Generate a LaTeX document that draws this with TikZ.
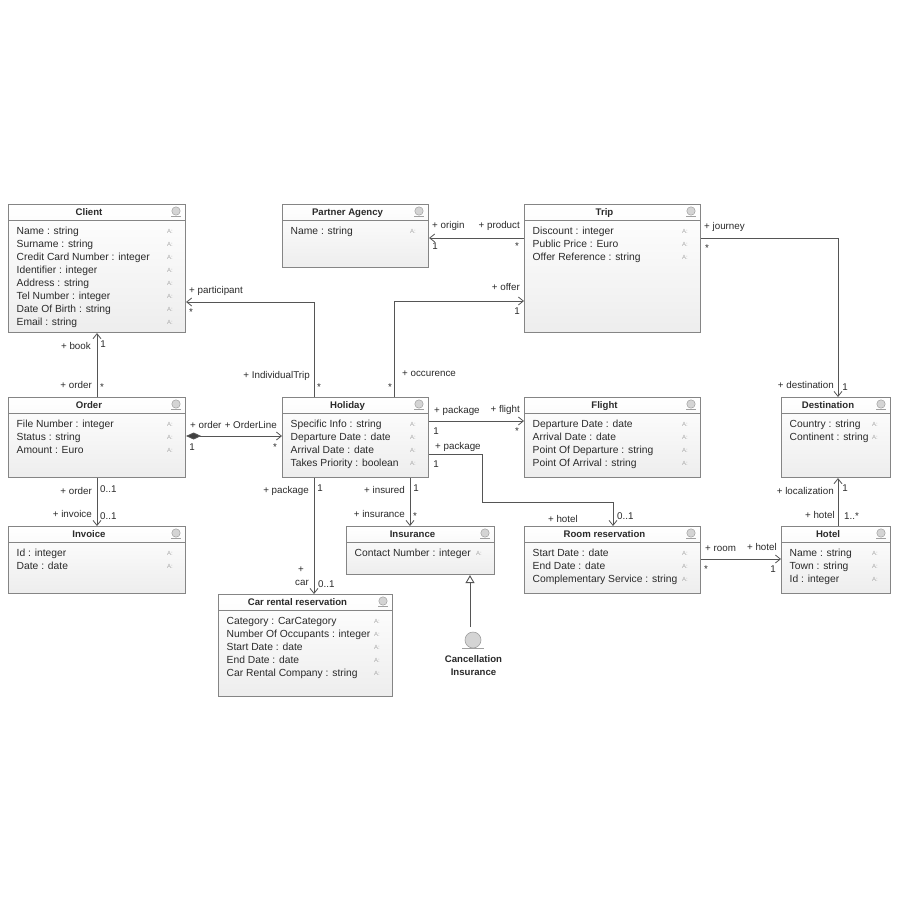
\documentclass[tikz,border=0pt]{standalone}
\usepackage{fontspec}
\setmainfont{Liberation Sans}
\usetikzlibrary{arrows.meta,calc}
\definecolor{boxline}{HTML}{858585}
\definecolor{inktext}{HTML}{2A2A2A}
\definecolor{connline}{HTML}{555555}
\definecolor{iconfill}{HTML}{D4D4D4}
\definecolor{iconline}{HTML}{A0A0A0}
\definecolor{amark}{HTML}{A8A8A8}
\tikzset{
  classbox/.style={draw=boxline,line width=1.1pt,anchor=north west,inner sep=0pt,top color=white,bottom color=black!7,shading angle=0},
  headline/.style={draw=boxline,line width=1pt},
  classtitle/.style={font=\fontsize{9.6}{11}\selectfont\bfseries,text=inktext,inner sep=0pt,text height=7pt,text depth=2pt},
  attrtext/.style={font=\fontsize{10.3}{12}\selectfont,text=inktext,anchor=west,inner sep=0pt,text height=7.5pt,text depth=2pt},
  amarktext/.style={font=\fontsize{6}{7}\selectfont,text=amark,inner sep=0pt,text height=4.5pt,text depth=0pt},
  labeltext/.style={font=\fontsize{9.8}{11}\selectfont,text=inktext,inner sep=0pt,text height=7pt,text depth=2pt},
  assoc/.style={draw=connline,line width=0.9pt,-{Straight Barb[length=5pt,width=8pt,line width=0.8pt]}},
  compo/.style={draw=connline,line width=0.9pt,{Diamond[length=15pt,width=7pt,fill=black!75]}-{Straight Barb[length=5pt,width=8pt,line width=0.8pt]}},
  gener/.style={draw=connline,line width=0.9pt,-{Triangle[open,length=8pt,width=9pt,fill=white]}},
  icondisc/.style={draw=iconline,fill=iconfill,line width=0.6pt},
  iconbase/.style={draw=iconline,line width=1pt},
}
\newcounter{lblc}
\newcommand{\lbl}[4][center]{\stepcounter{lblc}\node[labeltext,anchor=#1] (lbl\arabic{lblc}) at (#2,#3+1.5) {#4};}
\newcommand{\umlclass}[7]{%
  \pgfmathsetmacro{\bw}{#4-#2}\pgfmathsetmacro{\bh}{#5-#3}%
  \node[classbox,minimum width=\bw pt,minimum height=\bh pt] (#1) at (#2,#3) {};
  \draw[headline] (#2,#3+16) -- (#4,#3+16);
  \node[classtitle] (#1-title) at ({(#2+#4)/2-7.5},#3+9) {#6};
  \fill[iconfill,draw=iconline,line width=0.5pt] (#4-9,#3+7) circle (4.2pt);
  \draw[iconbase] (#4-14,#3+12.5) -- (#4-4,#3+12.5);
  \foreach \t [count=\i] in {#7}{
    \node[attrtext] (#1-a\i) at (#2+8.5,#3+14.5+13*\i) {\t};
    \node[amarktext] (#1-m\i) at (#4-15,#3+14*1+13*\i) {A:};
  }%
}
\begin{document}
\begin{tikzpicture}[x=1pt,y=-1pt]
\useasboundingbox (0,0) rectangle (900,900);
\fill[white] (0,0) rectangle (900,900);
\umlclass{client}{8}{204}{185}{332}{Client}{Name : string,Surname : string,Credit Card Number : integer,Identifier : integer,Address : string,Tel Number : integer,Date Of Birth : string,Email : string}
\umlclass{partner}{282}{204}{428}{267}{Partner Agency}{Name : string}
\umlclass{trip}{524}{204}{700}{332}{Trip}{Discount : integer,Public Price : Euro,Offer Reference : string}
\umlclass{order}{8}{397}{185}{477}{Order}{File Number : integer,Status : string,Amount : Euro}
\umlclass{holiday}{282}{397}{428}{477}{Holiday}{Specific Info : string,Departure Date : date,Arrival Date : date,Takes Priority : boolean}
\umlclass{flight}{524}{397}{700}{477}{Flight}{Departure Date : date,Arrival Date : date,Point Of Departure : string,Point Of Arrival : string}
\umlclass{destination}{781}{397}{890}{477}{Destination}{Country : string,Continent : string}
\umlclass{invoice}{8}{526}{185}{593}{Invoice}{Id : integer,Date : date}
\umlclass{insurance}{346}{526}{494}{574}{Insurance}{Contact Number : integer}
\umlclass{room}{524}{526}{700}{593}{Room reservation}{Start Date : date,End Date : date,Complementary Service : string}
\umlclass{hotel}{781}{526}{890}{593}{Hotel}{Name : string,Town : string,Id : integer}
\umlclass{car}{218}{594}{392}{696}{Car rental reservation}{Category : CarCategory,Number Of Occupants : integer,Start Date : date,End Date : date,Car Rental Company : string}
% Cancellation Insurance
\node[icondisc,circle,minimum size=16pt,inner sep=0pt] (cancel) at (473,640) {};
\draw[iconbase,line width=1.6pt] (462,648.5) -- (484,648.5);
\node[classtitle,align=center,font=\fontsize{9.6}{13}\selectfont\bfseries,text height=,text depth=] (cancel-name) at (473.5,665.5) {Cancellation\\Insurance};
% connectors
\draw[gener] (470,627) -- ([xshift=124pt]insurance.south west);
\draw[assoc] ([xshift=32pt]holiday.north west) |- ([yshift=-98pt]client.north east);
\draw[assoc] ([xshift=112pt]holiday.north west) |- ([yshift=-97pt]trip.north west);
\draw[assoc] ([yshift=-34pt]trip.north west) -- ([yshift=-34pt]partner.north east);
\draw[assoc] ([yshift=-34pt]trip.north east) -| ([xshift=57pt]destination.north west);
\draw[assoc] ([xshift=89pt]order.north west) -- ([xshift=89pt]client.south west);
\draw[assoc] ([xshift=89pt]order.south west) -- ([xshift=89pt]invoice.north west);
\draw[compo] ([yshift=-39pt]order.north east) -- ([yshift=-39pt]holiday.north west);
\draw[assoc] ([yshift=-24pt]holiday.north east) -- ([yshift=-24pt]flight.north west);
\draw[assoc] ([yshift=-57pt]holiday.north east) -- ++(53,0) -- ++(0,48) -| ([xshift=89pt]room.north west);
\draw[assoc] ([xshift=32pt]holiday.south west) -- ([xshift=96pt]car.north west);
\draw[assoc] ([xshift=128pt]holiday.south west) -- ([xshift=64pt]insurance.north west);
\draw[assoc] ([yshift=-33pt]room.north east) -- ([yshift=-33pt]hotel.north west);
\draw[assoc] ([xshift=57pt]hotel.north west) -- ([xshift=57pt]destination.south west);
% labels
\lbl[west]{189}{289}{+ participant}
\lbl{191}{311}{*}
\lbl[east]{310}{374}{+ IndividualTrip}
\lbl{319}{386}{*}
\lbl[east]{520}{286}{+ offer}
\lbl{517}{310.5}{1}
\lbl[west]{402}{372}{+ occurence}
\lbl{390}{386}{*}
\lbl[west]{432}{224}{+ origin}
\lbl[east]{520}{224}{+ product}
\lbl{435}{245.5}{1}
\lbl{517}{245}{*}
\lbl[west]{704}{225}{+ journey}
\lbl{707}{247}{*}
\lbl[east]{834}{384}{+ destination}
\lbl{845}{386.5}{1}
\lbl[east]{91}{345}{+ book}
\lbl{103}{343.5}{1}
\lbl[east]{92}{384}{+ order}
\lbl{102}{386}{*}
\lbl[east]{92}{490}{+ order}
\lbl[west]{100}{488}{0..1}
\lbl[east]{92}{513}{+ invoice}
\lbl[west]{100}{515}{0..1}
\lbl[west]{190}{424}{+ order}
\lbl[east]{277}{424}{+ OrderLine}
\lbl{192}{446.5}{1}
\lbl{275}{446}{*}
\lbl[west]{434}{409}{+ package}
\lbl[east]{520}{408}{+ flight}
\lbl{436}{430.5}{1}
\lbl{517}{430}{*}
\lbl[west]{435}{445}{+ package}
\lbl{436}{463.5}{1}
\lbl[east]{578}{518}{+ hotel}
\lbl[west]{617}{515}{0..1}
\lbl[east]{309}{489}{+ package}
\lbl{320}{487.5}{1}
\lbl{301}{568}{+}
\lbl{302}{581}{car}
\lbl[west]{318}{583}{0..1}
\lbl[east]{405}{489}{+ insured}
\lbl{416}{487.5}{1}
\lbl[east]{405}{513}{+ insurance}
\lbl{415}{515}{*}
\lbl[west]{705}{547}{+ room}
\lbl[east]{777}{546}{+ hotel}
\lbl{706}{568}{*}
\lbl{773}{568.5}{1}
\lbl[east]{834}{490}{+ localization}
\lbl{845}{487.5}{1}
\lbl[east]{835}{514}{+ hotel}
\lbl[west]{844}{515}{1..*}
\end{tikzpicture}
\end{document}
